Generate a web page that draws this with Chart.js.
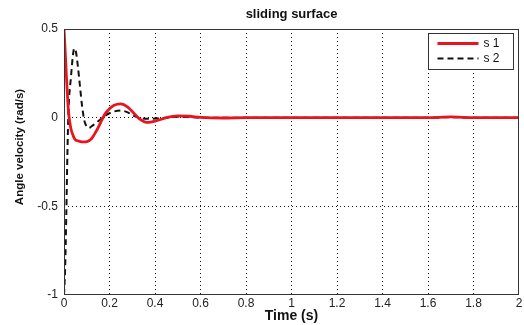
<!DOCTYPE html>
<html>
<head>
<meta charset="utf-8">
<script src="https://cdn.jsdelivr.net/npm/chart.js@4"></script>
<style>
  html, body { margin: 0; padding: 0; background: #fff; }
  #wrap { width: 524px; height: 325px; }
</style>
</head>
<body>
<div id="wrap"><canvas id="c" width="524" height="325"></canvas></div>
<script>
// ==== Data ====
const timeS = [0, 0.005, 0.01, 0.015, 0.02, 0.03, 0.04, 0.045, 0.05, 0.06, 0.07, 0.08, 0.09, 0.10, 0.11, 0.12,
               0.14, 0.16, 0.18, 0.20, 0.22, 0.25, 0.28, 0.30, 0.33, 0.37, 0.40, 0.45, 0.50, 0.55, 0.60,
               0.70, 0.80, 1.00, 1.20, 1.40, 1.60, 1.70, 1.80, 2.00];
const s1 = [0.5, 0.38, 0.25, 0.13, 0.03, -0.06, -0.10, -0.115, -0.125, -0.13, -0.134, -0.137, -0.137, -0.135, -0.13, -0.12,
            -0.08, -0.03, 0.02, 0.05, 0.07, 0.078, 0.06, 0.035, -0.005, -0.027, -0.02, 0.0, 0.01, 0.008, 0.002,
            -0.002, 0.0, 0.0, 0.0, 0.0, 0.0, 0.004, 0.0, 0.0];
const s2 = [-1, -0.85, -0.55, -0.2, 0.05, 0.22, 0.36, 0.39, 0.385, 0.3, 0.18, 0.06, -0.02, -0.05, -0.058, -0.05,
            -0.03, -0.01, 0.01, 0.025, 0.035, 0.04, 0.03, 0.015, 0.0, -0.006, -0.005, 0.0, 0.005, 0.003, 0.0,
            0.0, 0.0, 0.0, 0.0, 0.0, 0.0, 0.003, 0.0, 0.0];
const xTicks = [0, 0.2, 0.4, 0.6, 0.8, 1, 1.2, 1.4, 1.6, 1.8, 2];
const yTicks = [-1, -0.5, 0, 0.5];

const FONT = 'Liberation Sans, Arial, Helvetica, sans-serif';

// ---- Frame, titles and inside legend ----
const framePlugin = {
  id: 'frame',
  afterDatasetsDraw(chart) {
    const { ctx, chartArea: a } = chart;
    ctx.save();
    ctx.strokeStyle = '#333';
    ctx.lineWidth = 1;
    ctx.strokeRect(Math.round(a.left) + 0.5, Math.round(a.top) + 0.5,
                   Math.round(a.right - a.left) - 1, Math.round(a.bottom - a.top) - 1);

    // chart title, centred on the plot area
    ctx.fillStyle = '#111';
    ctx.textAlign = 'center';
    ctx.textBaseline = 'middle';
    ctx.font = 'bold 13px ' + FONT;
    ctx.fillText('sliding surface', (a.left + a.right) / 2, 14);

    // y axis title
    ctx.save();
    ctx.translate(20, 147);
    ctx.rotate(-Math.PI / 2);
    ctx.font = 'bold 11.5px ' + FONT;
    ctx.fillText('Angle velocity (rad/s)', 0, 0);
    ctx.restore();

    // legend box
    const bx = 428.5, by = 33.5, bw = 85, bh = 36;
    ctx.fillStyle = '#fff';
    ctx.fillRect(bx, by, bw, bh);
    ctx.strokeRect(bx, by, bw, bh);
    ctx.font = '12px ' + FONT;
    ctx.textAlign = 'left';
    chart.data.datasets.forEach((ds, i) => {
      const yy = by + 10 + i * 15;
      ctx.strokeStyle = ds.borderColor;
      ctx.lineWidth = ds.borderWidth;
      ctx.setLineDash(ds.borderDash || []);
      ctx.beginPath();
      ctx.moveTo(bx + 9, yy);
      ctx.lineTo(bx + 50, yy);
      ctx.stroke();
      ctx.setLineDash([]);
      ctx.fillStyle = '#111';
      ctx.fillText(ds.label, bx + 55, yy);
    });
    ctx.restore();
  }
};

// hide the grid line on the frame edges
const innerGrid = (c) => (c.index === 0 || c.index === c.scale.ticks.length - 1) ? 'rgba(0,0,0,0)' : '#111';

new Chart(document.getElementById('c'), {
  type: 'line',
  data: {
    datasets: [
      { label: 's 1', data: timeS.map((t, i) => ({ x: t, y: s1[i] })),
        borderColor: '#e8141e', borderWidth: 2.8, pointRadius: 0, fill: false,
        cubicInterpolationMode: 'monotone' },
      { label: 's 2', data: timeS.map((t, i) => ({ x: t, y: s2[i] })),
        borderColor: '#111', borderWidth: 2, borderDash: [6, 4], pointRadius: 0, fill: false,
        cubicInterpolationMode: 'monotone' }
    ]
  },
  options: {
    responsive: false,
    animation: false,
    layout: { padding: { left: 0, right: 5, top: 29, bottom: 0 } },
    plugins: {
      legend: { display: false },
      tooltip: { enabled: false },
      title: { display: false }
    },
    scales: {
      x: {
        type: 'linear', min: 0, max: 2,
        afterBuildTicks: (s) => { s.ticks = xTicks.map(v => ({ value: v })); },
        afterFit: (s) => { s.height = 30; },
        grid: { color: innerGrid, lineWidth: 1, drawTicks: false },
        border: { display: false, dash: [1, 3] },
        ticks: { color: '#222', padding: 1, maxRotation: 0, font: { family: FONT, size: 12 },
                 callback: (v) => String(v) },
        title: { display: true, text: 'Time (s)', color: '#111', padding: 0,
                 font: { family: FONT, size: 14, weight: 'bold' } }
      },
      y: {
        min: -1, max: 0.5,
        afterBuildTicks: (s) => { s.ticks = yTicks.map(v => ({ value: v })); },
        afterFit: (s) => { s.width = 64; },
        grid: { color: innerGrid, lineWidth: 1, drawTicks: false },
        border: { display: false, dash: [1, 3] },
        ticks: { color: '#222', padding: 6, font: { family: FONT, size: 12 },
                 callback: (v) => String(v) }
      }
    }
  },
  plugins: [framePlugin]
});
</script>
</body>
</html>
